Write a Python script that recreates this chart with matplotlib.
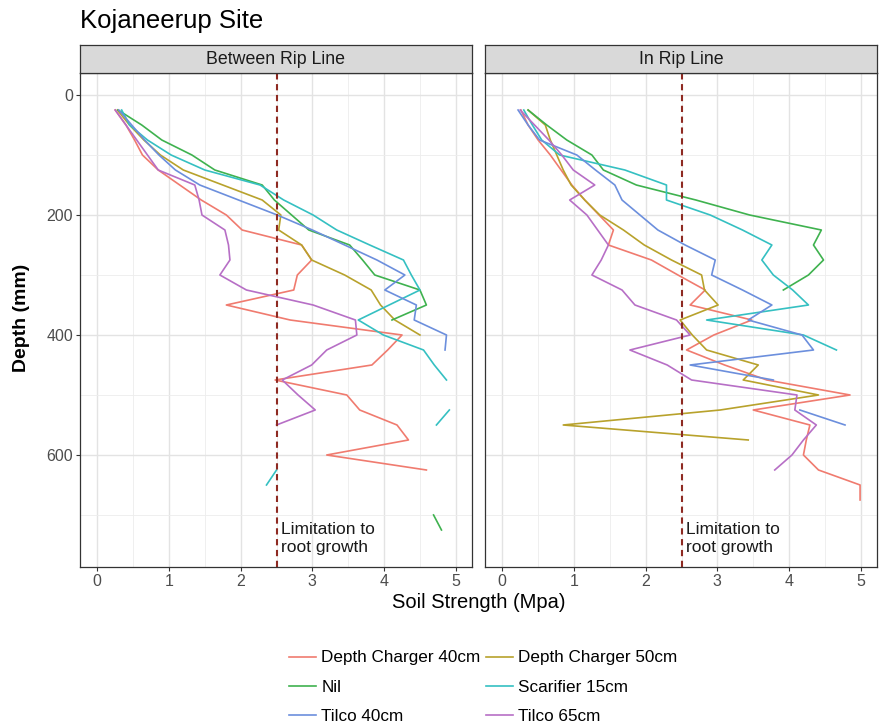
import numpy as np
import matplotlib
matplotlib.use("Agg")
import matplotlib.pyplot as plt
from matplotlib.ticker import MultipleLocator

plt.rcParams['font.family'] = ['Liberation Sans', 'DejaVu Sans']

nan = np.nan

# --- data: penetrometer readings every 25 mm (25..725), nan = no reading ---
DEPTH = list(range(25, 750, 25))

TREATMENTS = ["Depth Charger 40cm", "Depth Charger 50cm", "Nil",
              "Scarifier 15cm", "Tilco 40cm", "Tilco 65cm"]
COLOURS = ["#F07B6F", "#B8A22C", "#3FB24F", "#35C0C2", "#6C8FDD", "#B76FC6"]
PANELS = ["Between Rip Line", "In Rip Line"]

# Between Rip Line
DC40_B = [0.25, 0.40, 0.52, 0.63, 0.85, 1.15, 1.45, 1.80, 2.02, 2.85, 2.99, 2.79, 2.74, 1.80, 2.69,
          4.25, 4.05, 3.83, 2.48, 3.48, 3.66, 4.18, 4.34, 3.20, 4.59, nan, nan, nan, nan]
DC50_B = [0.28, 0.45, 0.65, 0.88, 1.20, 1.75, 2.30, 2.56, 2.53, 2.85, 2.99, 3.45, 3.82, 3.95, 4.15,
          4.50] + [nan] * 13
NIL_B = [0.29, 0.62, 0.90, 1.32, 1.64, 2.30, 2.47, 2.71, 2.95, 3.52, 3.70, 3.87, 4.50, 4.59, 4.11] \
        + [nan] * 12 + [4.69, 4.80]
SCAR_B = [0.34, 0.45, 0.70, 1.03, 1.50, 2.27, 2.60, 3.01, 3.34, 3.80, 4.27, 4.38, 4.50, 4.07, 3.64,
          3.99, 4.55, 4.70, 4.87, nan, 4.91, 4.73, nan, nan, 2.50, 2.36, nan, nan, nan]
TIL40_B = [0.30, 0.48, 0.66, 0.86, 1.09, 1.43, 1.97, 2.51, 3.00, 3.45, 3.90, 4.29, 4.01, 4.45, 4.42,
           4.87, 4.85] + [nan] * 12
TIL65_B = [0.25, 0.40, 0.55, 0.70, 0.85, 1.36, 1.42, 1.46, 1.78, 1.83, 1.85, 1.71, 2.08, 3.01, 3.60,
           3.62, 3.20, 2.99, 2.58, 2.80, 3.04, 2.50] + [nan] * 7

# In Rip Line
DC40_I = [0.26, 0.36, 0.50, 0.67, 0.82, 0.97, 1.15, 1.35, 1.55, 1.48, 2.08, 2.45, 2.83, 2.62, 3.48,
          2.95, 2.57, 3.10, 3.69, 4.85, 3.50, 4.29, 4.24, 4.20, 4.41, 4.99, 4.99, nan, nan]
DC50_I = [0.36, 0.60, 0.67, 0.76, 0.85, 0.96, 1.15, 1.36, 1.69, 1.98, 2.36, 2.78, 2.82, 3.01, 2.48,
          2.65, 2.85, 3.57, 3.36, 4.41, 3.04, 0.85, 3.43] + [nan] * 6
NIL_I = [0.36, 0.62, 0.90, 1.25, 1.41, 1.87, 2.70, 3.45, 4.45, 4.34, 4.48, 4.27, 3.92] + [nan] * 16
SCAR_I = [0.30, 0.42, 0.55, 0.80, 1.71, 2.29, 2.29, 2.90, 3.35, 3.76, 3.62, 3.78, 4.05, 4.27, 2.85,
          4.20, 4.66] + [nan] * 12
TIL40_I = [0.22, 0.36, 0.52, 1.04, 1.30, 1.57, 1.67, 1.92, 2.17, 2.55, 2.97, 2.92, 3.35, 3.76, 3.43,
           4.18, 4.34, 2.62, 3.78, nan, 4.15, 4.78] + [nan] * 7
TIL65_I = [0.25, 0.45, 0.65, 0.83, 0.99, 1.29, 0.94, 1.18, 1.33, 1.48, 1.38, 1.25, 1.67, 1.85, 2.43,
           2.62, 1.78, 2.30, 2.64, 4.11, 4.08, 4.38, 4.20, 4.04, 3.80] + [nan] * 4

SERIES = [
    [DC40_B, DC50_B, NIL_B, SCAR_B, TIL40_B, TIL65_B],
    [DC40_I, DC50_I, NIL_I, SCAR_I, TIL40_I, TIL65_I],
]
LIMIT = 2.5

# --- figure ---
W, H = 883, 725
fig = plt.figure(figsize=(W / 100, H / 100), dpi=100)

def fx(px):
    return px / W

def fy(py):
    return 1 - py / H

panel_left = [80, 485]
panel_w = 392
top, bottom = 73, 567
strip_top = 45

handles = []
for k, (name, vals) in enumerate(zip(PANELS, SERIES)):
    ax = fig.add_axes([fx(panel_left[k]), fy(bottom), panel_w / W, (bottom - top) / H])
    ax.set_xlim(-0.241, 5.226)
    ax.set_ylim(786.7, -36.7)
    ax.xaxis.set_major_locator(MultipleLocator(1))
    ax.xaxis.set_minor_locator(MultipleLocator(0.5))
    ax.yaxis.set_major_locator(MultipleLocator(200))
    ax.yaxis.set_minor_locator(MultipleLocator(100))
    ax.grid(which="major", color="#E3E3E3", lw=1.0)
    ax.grid(which="minor", color="#EDEDED", lw=0.6)
    ax.set_axisbelow(True)
    for s in ax.spines.values():
        s.set_color("#333333")
        s.set_linewidth(0.9)
    ax.tick_params(which="minor", length=0)
    ax.tick_params(which="major", length=3, width=0.8, color="#333333",
                   labelsize=11.5, labelcolor="#4D4D4D", pad=2)
    if k == 1:
        ax.tick_params(axis="y", which="major", length=0, labelleft=False)

    for v, c, lab in zip(vals, COLOURS, TREATMENTS):
        ln, = ax.plot(v, DEPTH, color=c, lw=1.2, label=lab)
        if k == 0:
            handles.append(ln)

    ax.axvline(LIMIT, color="#8E2A22", lw=1.5, ls=(0, (3, 2.2)))
    ax.text(LIMIT + 0.06, 740, "Limitation to\nroot growth", fontsize=12.5,
            ha="left", va="center", color="#1A1A1A", linespacing=1.25)

    # strip
    sax = fig.add_axes([fx(panel_left[k]), fy(top), panel_w / W, (top - strip_top) / H])
    sax.set_facecolor("#D9D9D9")
    sax.set_xticks([])
    sax.set_yticks([])
    for s in sax.spines.values():
        s.set_color("#333333")
        s.set_linewidth(0.9)
    sax.text(0.5, 0.5, name, ha="center", va="center", fontsize=12.8, color="#1A1A1A",
             transform=sax.transAxes)

fig.text(fx(80), fy(21), "Kojaneerup Site", fontsize=18.5, ha="left", va="center")
fig.text(fx(479), fy(602), "Soil Strength (Mpa)", fontsize=14.5, ha="center", va="center")
fig.text(fx(22), fy(318), "Depth (mm)", fontsize=14, ha="center", va="center",
         rotation=90, fontweight="bold")

# legend filled row by row like ggplot
order = [0, 2, 4, 1, 3, 5]
leg = fig.legend([handles[i] for i in order], [TREATMENTS[i] for i in order],
                 ncol=2, loc="center", bbox_to_anchor=(fx(483), fy(687)),
                 frameon=False, fontsize=12.3, handlelength=1.6, handletextpad=0.3,
                 columnspacing=0.3, labelspacing=0.82, borderpad=0)

fig.savefig("out.png", dpi=100)
